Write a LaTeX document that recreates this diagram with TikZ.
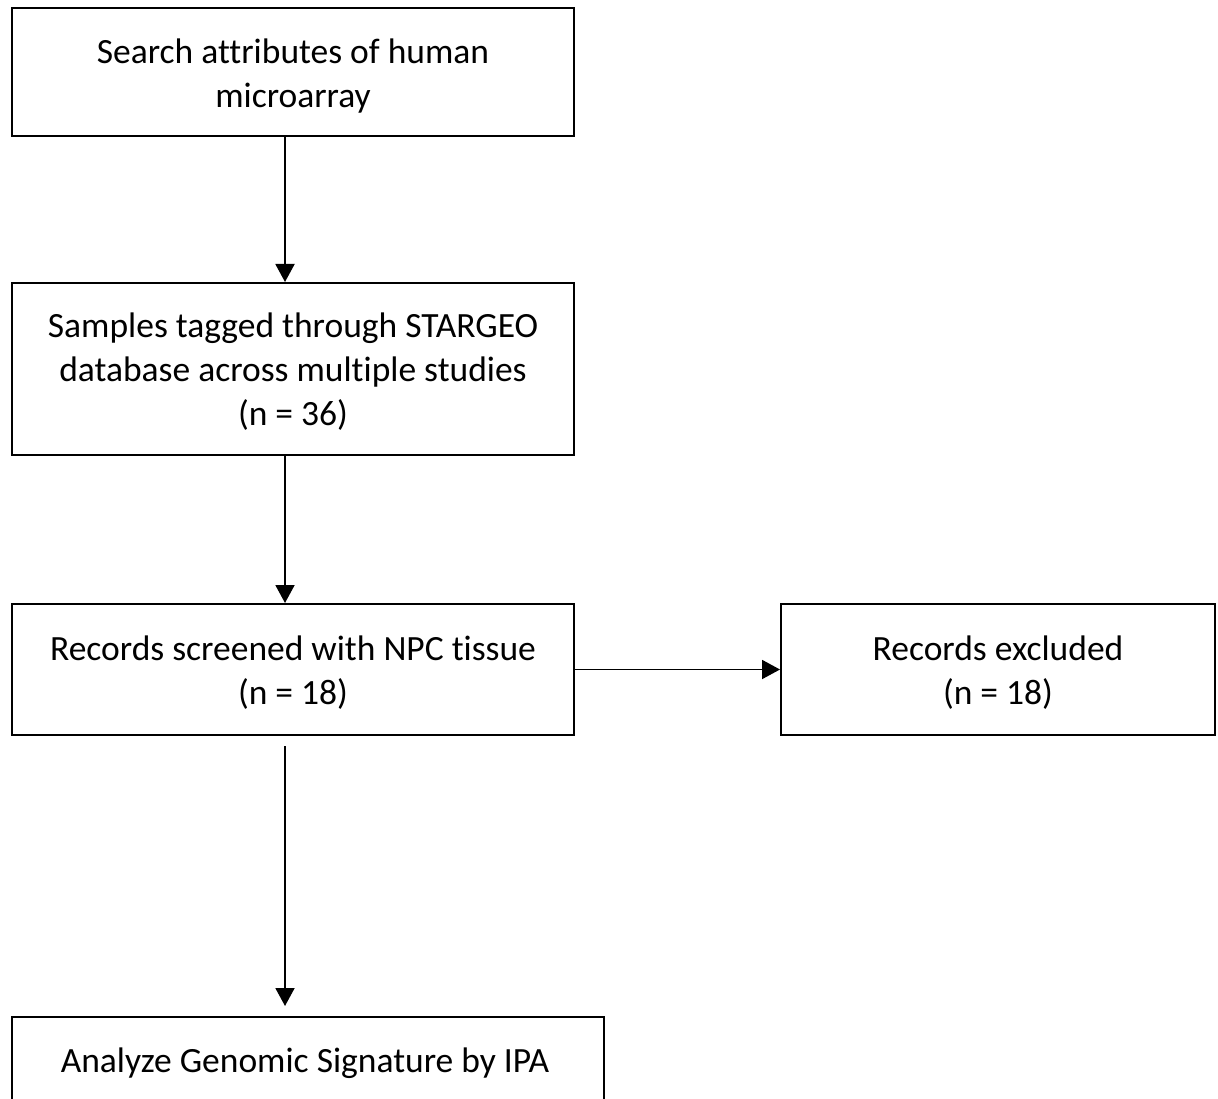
\documentclass[tikz,border=0pt]{standalone}
\usepackage{fontspec}
\setmainfont{Carlito}[Ligatures=CommonOff]
\usetikzlibrary{arrows.meta,calc}
\begin{document}
\begin{tikzpicture}[x=1pt,y=-1pt,
  box/.style={draw=black,line width=2pt,rectangle,inner sep=0pt},
  txt/.style={align=center,inner sep=0pt,font=\fontsize{35.5}{44}\selectfont},
  conn/.style={line width=1.9pt,-{Triangle[width=19pt,length=18pt]}}]
\clip (0,0) rectangle (1218,1099);
\fill[white] (0,0) rectangle (1218,1099);
\node[box,minimum width=562pt,minimum height=128pt] (b1) at (293,72) {};
\node[txt] (t1) at ($(b1.center)+(0,4)$) {Search attributes of human\\microarray};
\node[box,minimum width=562pt,minimum height=172pt] (b2) at (293,369) {};
\node[txt] (t2) at ($(b2.center)+(0,3)$) {Samples tagged through STARGEO\\database across multiple studies\\(n = 36)};
\node[box,minimum width=562pt,minimum height=131pt] (b3) at (293,669.5) {};
\node[txt] (t3) at ($(b3.center)+(0,3)$) {Records screened with NPC tissue\\(n = 18)};
\node[box,minimum width=434pt,minimum height=131pt] (b4) at (998,669.5) {};
\node[txt] (t4) at ($(b4.center)+(0,3)$) {Records excluded\\(n = 18)};
\node[box,minimum width=592pt,minimum height=90pt] (b5) at (308,1062) {};
\node[txt] (t5) at (305,1063) {Analyze Genomic Signature by IPA};
\coordinate (ax) at (285,0);
\coordinate (s3) at ($(b3.south -| ax)+(0,10)$);
\coordinate (e5) at ($(b5.north -| ax)+(0,-10)$);
\draw[conn] (b1.south -| ax) -- (b2.north -| ax);
\draw[conn] (b2.south -| ax) -- (b3.north -| ax);
\draw[conn] (s3) -- (e5);
\draw[conn] (b3.east) -- (b4.west);
\end{tikzpicture}
\end{document}
